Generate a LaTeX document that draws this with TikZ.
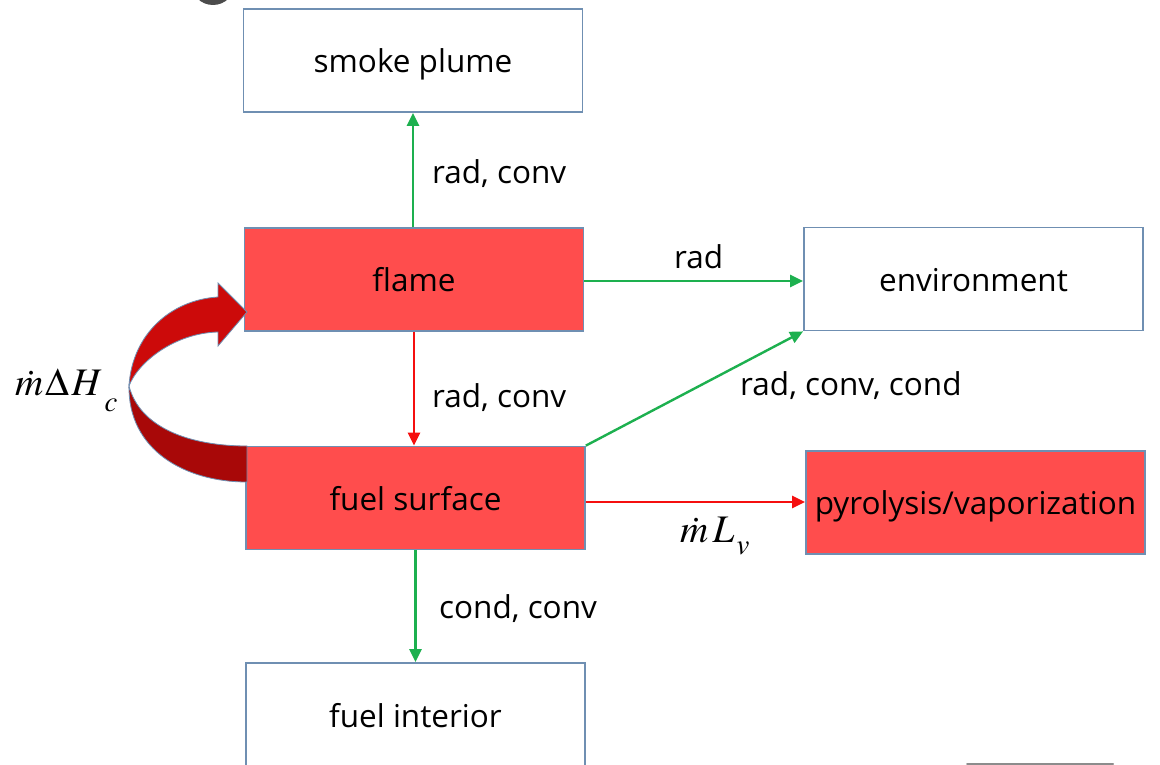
\documentclass[tikz,border=0pt]{standalone}
\usepackage{mathptmx}
\usepackage{fontspec}
\setmainfont{Open Sans}
\usetikzlibrary{arrows.meta}
\definecolor{boxline}{HTML}{6F8FB2}
\definecolor{hotfill}{HTML}{FF4D4D}
\definecolor{flowgreen}{HTML}{1DB04F}
\definecolor{flowred}{HTML}{F50F0F}
\definecolor{bandlight}{HTML}{CC0A0A}
\definecolor{banddark}{HTML}{A80808}
\tikzset{
  stage/.style={draw=boxline, line width=1.8pt, fill=white, minimum width=339pt,
    minimum height=103pt, inner sep=0pt, text height=24pt, text depth=0pt,
    font=\fontsize{31.5}{38}\selectfont},
  hot/.style={stage, fill=hotfill},
  flow/.style={line width=2.4pt, -{Triangle[length=13pt,width=12pt]}},
  cool/.style={flow, draw=flowgreen, fill=flowgreen},
  heat/.style={flow, draw=flowred, fill=flowred},
  lbl/.style={font=\fontsize{31.5}{38}\selectfont, inner sep=0pt, anchor=base west},
  mlbl/.style={font=\fontsize{39}{44}\selectfont, inner sep=0pt, anchor=base west},
}
\begin{document}
\begin{tikzpicture}[x=1pt,y=-1pt]
\useasboundingbox (0,0) rectangle (1160,765);
\clip (0,0) rectangle (1160,765);
\fill[white] (0,0) rectangle (1160,765);

% stray marks at the edges
\fill[black!70] (213,-17) circle (22);
\draw[black!45, line width=2pt, line cap=round] (967,764) -- (1113,764);

% boxes
\node[stage] (smoke) at (413,60.5) {smoke plume};
\node[hot] (flame) at (414,279.5) {flame};
\node[stage] (env) at (973.5,279) {environment};
\node[hot] (fuel) at (415.5,498) {fuel surface};
\node[hot] (pyro) at (975.5,502.5) {pyrolysis/vaporization};
\node[stage, minimum height=104pt] (interior) at (415.5,715) {fuel interior};

% heat and mass flows
\draw[cool] (smoke.south |- flame.north) -- (smoke.south);
\draw[cool] (flame.east |- 0,281) -- (env.west |- 0,281);
\draw[heat] (flame.south) -- (flame.south |- fuel.north);
\draw[cool] (fuel.north east) -- (env.south west);
\draw[heat] (fuel.east |- 0,502) -- (pyro.west |- 0,502);
\draw[cool] (fuel.south) -- (fuel.south |- interior.north);

% labels
\node[lbl] (l1) at (432,183.5) {rad, conv};
\node[lbl] (l2) at (674,268.5) {rad};
\node[lbl] (l3) at (432,407) {rad, conv};
\node[lbl] (l4) at (740,395) {rad, conv, cond};
\node[lbl] (l5) at (439,618.5) {cond, conv};
\node[mlbl] (l6) at (680,542) {$\dot{m}\mkern2mu L\mkern1mu\lower12pt\hbox{$\scriptstyle v$}$};
\node[mlbl] (l7) at (15,395) {$\dot{m}\mkern1mu\Delta\mkern1mu H\mkern1mu\lower16pt\hbox{$\scriptstyle c$}$};

% combustion heat returned to the flame
\fill[banddark, draw=boxline, line width=0.8pt]
  (129,386) .. controls (128,450) and (185,482) .. (247,482)
  -- (247,446) .. controls (190,446) and (140,428) .. (129,386) -- cycle;
\fill[bandlight, draw=boxline, line width=0.8pt]
  (247,312) -- (218,283) -- (218,297)
  .. controls (170,300) and (132,335) .. (129,386)
  .. controls (138,362) and (175,333) .. (218,332)
  -- (218,346) -- cycle;
\end{tikzpicture}
\end{document}
